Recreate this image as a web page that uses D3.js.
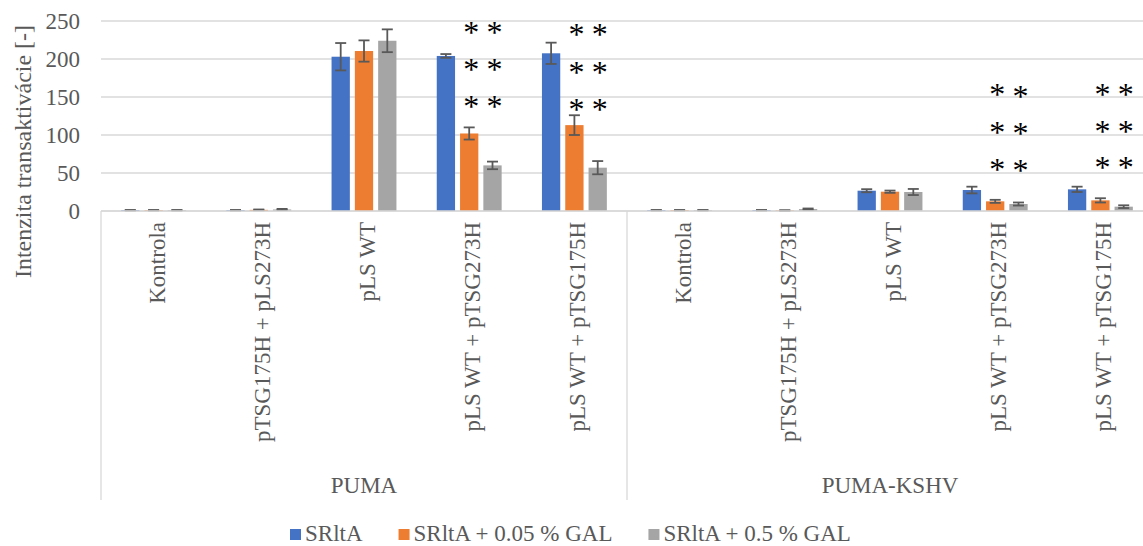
<!DOCTYPE html>
<html>
<head>
<meta charset="utf-8">
<script src="https://cdn.jsdelivr.net/npm/d3@7"></script>
<style>
  html, body { margin: 0; padding: 0; background: #fff; overflow: hidden; }
  svg { display: block; }
  svg text { font-family: "Liberation Serif", "Times New Roman", Tinos, "Nimbus Roman", "Nimbus Roman No9 L", FreeSerif, "Noto Serif", "DejaVu Serif", Times, serif !important; }
</style>
</head>
<body>
<svg id="chart" width="1143" height="546"></svg>
<script>
// ---- data ----
const groups = ["PUMA", "PUMA-KSHV"];
const categories = ["Kontrola", "pTSG175H + pLS273H", "pLS WT", "pLS WT + pTSG273H", "pLS WT + pTSG175H"];
const seriesNames = ["SRltA", "SRltA + 0.05 % GAL", "SRltA + 0.5 % GAL"];
const seriesColors = ["#4472C4", "#ED7D31", "#A5A5A5"];
const valuesSRltA   = [1, 1, 203, 204, 207.5, 1, 1, 26.7, 27.6, 28.5];
const valuesGal005  = [1, 1.5, 210.5, 102, 113, 1, 0.7, 25.4, 12.7, 14];
const valuesGal05   = [1, 2, 224, 60, 57, 1, 2.5, 25, 9.2, 5.7];
const errSRltA      = [0.3, 0.3, 18, 2.5, 14, 0.3, 0.3, 2, 4.4, 3.5];
const errGal005     = [0.3, 0.5, 14, 8, 13, 0.3, 0.3, 1.5, 2, 2.8];
const errGal05      = [0.3, 0.8, 15, 5, 8.7, 0.3, 0.8, 4, 2, 1.8];
const yTicks = [0, 50, 100, 150, 200, 250];
const yTitle = "Intenzita transaktivácie [-]";
// significance stars: category index, series index, value level
const starCat    = [3, 3, 3, 3, 3, 3, 4, 4, 4, 4, 4, 4, 8, 8, 8, 8, 8, 8, 9, 9, 9, 9, 9, 9];
const starSeries = [1, 2, 1, 2, 1, 2, 1, 2, 1, 2, 1, 2, 1, 2, 1, 2, 1, 2, 1, 2, 1, 2, 1, 2];
const starLevel  = [238, 238, 190, 190, 141, 141, 235, 235, 186, 186, 137, 137,
                    156, 154, 107, 105, 58, 56, 157, 157, 108, 108, 61, 61];

// ---- build ----
const values = [valuesSRltA, valuesGal005, valuesGal05];
const errors = [errSRltA, errGal005, errGal05];
const keys = [];
groups.forEach(g => categories.forEach(c => keys.push(g + "|" + c)));

const svg = d3.select("#chart");
const textColor = "#595959";
const gridColor = "#d9d9d9";
const fs = 23;

const x0 = d3.scaleBand().domain(keys).range([101, 1153]).padding(0);
const x1 = d3.scaleBand().domain(d3.range(seriesNames.length))
  .range([0, x0.bandwidth()]).paddingInner(0.215).paddingOuter(0.865);
const y = d3.scaleLinear().domain([0, 250]).range([211, 21]);

// gridlines
svg.append("g").selectAll("line").data(yTicks).join("line")
  .attr("x1", 101).attr("x2", 1153)
  .attr("y1", d => y(d)).attr("y2", d => y(d))
  .attr("stroke", gridColor).attr("stroke-width", 1.3);

// y axis labels
const yAxis = d3.axisLeft(y).tickValues(yTicks).tickSize(0).tickPadding(21);
const gy = svg.append("g").attr("transform", "translate(101,0)").call(yAxis);
gy.select(".domain").remove();
gy.attr("font-family", null).attr("font-size", null);
gy.selectAll("text").attr("font-size", fs).attr("fill", textColor);

// y title
svg.append("text")
  .attr("transform", "translate(31,151.5) rotate(-90)")
  .attr("text-anchor", "middle").attr("font-size", fs + 1).attr("fill", textColor)
  .text(yTitle);

// bars
const barData = [];
keys.forEach((k, i) => values.forEach((arr, s) => barData.push({k, i, s, v: arr[i], e: errors[s][i]})));
svg.append("g").selectAll("rect").data(barData).join("rect")
  .attr("x", d => x0(d.k) + x1(d.s))
  .attr("width", x1.bandwidth())
  .attr("y", d => y(d.v))
  .attr("height", d => y(0) - y(d.v))
  .attr("fill", d => seriesColors[d.s]);

// error bars
const eg = svg.append("g").attr("stroke", "#595959").attr("stroke-width", 1.8);
barData.forEach(d => {
  const cx = x0(d.k) + x1(d.s) + x1.bandwidth() / 2;
  const hi = y(d.v + d.e), lo = y(Math.max(0, d.v - d.e));
  eg.append("line").attr("x1", cx).attr("x2", cx).attr("y1", hi).attr("y2", lo);
  eg.append("line").attr("x1", cx - 5.5).attr("x2", cx + 5.5).attr("y1", hi).attr("y2", hi);
  eg.append("line").attr("x1", cx - 5.5).attr("x2", cx + 5.5).attr("y1", lo).attr("y2", lo);
});

// category axis lines
svg.append("line").attr("x1", 101).attr("x2", 1153).attr("y1", y(0)).attr("y2", y(0))
  .attr("stroke", gridColor).attr("stroke-width", 1.3);
[0, 5, 10].forEach(i => {
  const xx = i < 10 ? x0(keys[i]) : 1153;
  svg.append("line").attr("x1", xx).attr("x2", xx).attr("y1", y(0)).attr("y2", 500)
    .attr("stroke", gridColor).attr("stroke-width", 1.3);
});

// category labels
svg.append("g").selectAll("text").data(keys).join("text")
  .attr("transform", d => `translate(${x0(d) + x0.bandwidth() / 2 + 11},222) rotate(-90)`)
  .attr("text-anchor", "end").attr("font-size", fs).attr("fill", textColor)
  .text(d => d.split("|")[1]);

// group labels
svg.append("g").selectAll("text").data(groups).join("text")
  .attr("x", (g, gi) => (x0(keys[gi * 5]) + (gi * 5 + 5 < keys.length ? x0(keys[gi * 5 + 5]) : 1153)) / 2)
  .attr("y", 493).attr("text-anchor", "middle").attr("font-size", fs).attr("fill", textColor)
  .text(d => d);

// stars
const sg = svg.append("g");
starCat.forEach((c, i) => {
  const cx = x0(keys[c]) + x1(starSeries[i]) + x1.bandwidth() / 2 + 2;
  sg.append("text").attr("x", cx).attr("y", y(starLevel[i]) + 13)
    .attr("text-anchor", "middle").attr("font-size", 32).attr("fill", "#000")
    .text("*");
});

// legend
const lg = svg.append("g");
let lx = 290;
seriesNames.forEach((n, i) => {
  lg.append("rect").attr("x", lx).attr("y", 529).attr("width", 11).attr("height", 11)
    .attr("fill", seriesColors[i]);
  const t = lg.append("text").attr("x", lx + 15).attr("y", 541).attr("font-size", fs)
    .attr("fill", textColor).text(n);
  lx += 15 + t.node().getComputedTextLength() + 36;
});
</script>
</body>
</html>
